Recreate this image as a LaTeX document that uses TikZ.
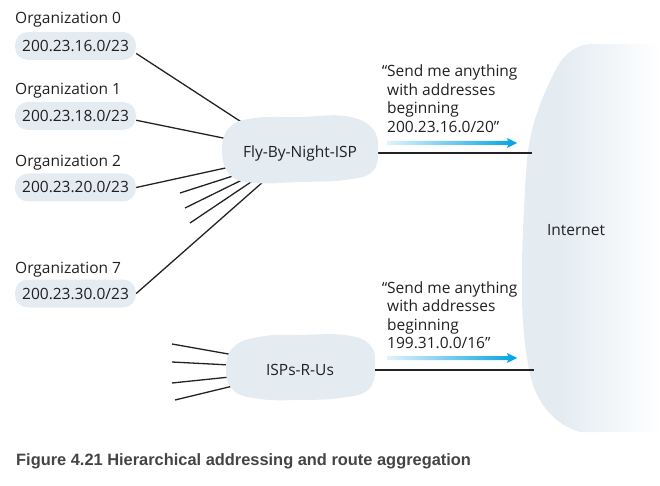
\documentclass[tikz,border=0pt]{standalone}
\usepackage{fontspec}
\setmainfont{Open Sans}
\newfontfamily\capfont{Liberation Sans}
\definecolor{cloudc}{RGB}{228,236,242}
\definecolor{txt}{RGB}{35,31,32}
\definecolor{arrowc}{RGB}{0,162,228}
\definecolor{arrowl}{RGB}{224,243,251}
\definecolor{capc}{RGB}{68,68,68}
\definecolor{linec}{RGB}{35,35,35}
\pgfdeclarehorizontalshading{netfade}{100bp}{color(0bp)=(cloudc); color(25bp)=(cloudc); color(40bp)=(cloudc); color(75bp)=(white); color(100bp)=(white)}
\tikzset{
  mainfont/.style={font=\fontsize{15.5}{18}\selectfont, text=txt},
  orglabel/.style={mainfont, anchor=base west, inner sep=0pt},
  orgbox/.style={mainfont, fill=cloudc, rounded corners=13pt, minimum width=121pt,
     minimum height=28pt, inner sep=0pt, text height=11pt, text depth=0pt},
  cloudtext/.style={mainfont, inner sep=0pt, text height=11pt, text depth=0pt},
  quoteline/.style={mainfont, anchor=base west, inner sep=0pt},
  wire/.style={draw=linec, line width=1.3pt},
  blob/.style={fill=cloudc},
}
\begin{document}
\begin{tikzpicture}[x=1pt,y=-1pt]
\useasboundingbox (0,0) rectangle (660,486);

% Internet cloud
\shade[shading=netfade] (660,44) -- (590,44) .. controls (570,46) and (560,60) .. (553,75)
  .. controls (543,95) and (530,125) .. (527,160)
  .. controls (524,200) and (521,260) .. (522,300)
  .. controls (523,340) and (528,370) .. (533,385)
  .. controls (540,405) and (555,425) .. (580,432) -- (660,432) -- cycle;
\node[cloudtext] (net) at (576,229.5) {Internet};
\coordinate (netA) at (532,153);
\coordinate (netB) at (534,370);

% organisations
\node[orglabel] (l0) at (15,24) {Organization 0};
\node[orgbox] (a0) at (75.5,46) {200.23.16.0/23};
\node[orglabel] (l1) at (15,95) {Organization 1};
\node[orgbox] (a1) at (75.5,116) {200.23.18.0/23};
\node[orglabel] (l2) at (15,167) {Organization 2};
\node[orgbox] (a2) at (75.5,187.5) {200.23.20.0/23};
\node[orglabel] (l7) at (15,273) {Organization 7};
\node[orgbox] (a7) at (75.5,293.5) {200.23.30.0/23};

% Fly-By-Night-ISP edge points and stubs
\coordinate (f0) at (246,125);
\coordinate (f1) at (228,139);
\coordinate (f2) at (230,167);
\coordinate (f3) at (236,175);
\coordinate (f4) at (246,178);
\coordinate (f5) at (254,180);
\coordinate (f6) at (264,181);
\coordinate (fout) at (372,153);
\coordinate (s1) at (180,193);
\coordinate (s2) at (185,208);
\coordinate (s3) at (190,223);

\draw[wire] (a0.-7) -- (f0);
\draw[wire] (a1.-4) -- (f1);
\draw[wire] (a2.east) -- (f2);
\draw[wire] (s1) -- (f3);
\draw[wire] (s2) -- (f4);
\draw[wire] (s3) -- (f5);
\draw[wire] (a7.east) -- (f6);
\draw[wire] (fout) -- (netA);

% ISPs-R-Us edge points and stubs
\coordinate (i1) at (234,355);
\coordinate (i2) at (230,365);
\coordinate (i3) at (230,377);
\coordinate (i4) at (233,386);
\coordinate (iout) at (370,370);
\coordinate (t1) at (172,344);
\coordinate (t2) at (172,362);
\coordinate (t3) at (172,383);
\coordinate (t4) at (175,400);
\draw[wire] (t1) -- (i1);
\draw[wire] (t2) -- (i2);
\draw[wire] (t3) -- (i3);
\draw[wire] (t4) -- (i4);
\draw[wire] (iout) -- (netB);

% clouds
\fill[blob] plot[smooth cycle, tension=0.7] coordinates {(222,150) (230,127) (255,118) (300,117) (345,116) (372,128) (378,150) (372,172) (345,180) (300,182) (255,183) (230,175)};
\node[cloudtext] (fbn) at (300,152.5) {Fly-By-Night-ISP};

\fill[blob] plot[smooth cycle, tension=0.7] coordinates {(226,366) (236,345) (265,336) (300,335) (345,335) (370,345) (375,368) (368,390) (340,398) (300,400) (260,399) (233,390)};
\node[cloudtext] (isp) at (300,369.5) {ISPs-R-Us};

% quotes
\node[quoteline] (q1) at (387,77) {\llap{“}Send me anything};
\node[quoteline] (q2) at (387,95.5) {with addresses};
\node[quoteline] (q3) at (387,114) {beginning};
\node[quoteline] (q4) at (387,132.5) {200.23.16.0/20”};
\node[quoteline] (r1) at (387,293) {\llap{“}Send me anything};
\node[quoteline] (r2) at (387,311.5) {with addresses};
\node[quoteline] (r3) at (387,330) {beginning};
\node[quoteline] (r4) at (387,348.5) {199.31.0.0/16”};

% blue arrows
\shade[left color=arrowl, right color=arrowc] (387,141) -- (508,141) -- (507,138) -- (517,143) -- (507,148) -- (508,145) -- (387,145) -- cycle;
\shade[left color=arrowl, right color=arrowc] (387,356) -- (508,356) -- (507,353) -- (517,358) -- (507,363) -- (508,360) -- (387,360) -- cycle;

% caption
\node[anchor=base west, inner sep=0pt, text=capc, font=\capfont\bfseries\fontsize{16.4}{18}\selectfont] (cap) at (16,465) {Figure 4.21 Hierarchical addressing and route aggregation};
\end{tikzpicture}
\end{document}
